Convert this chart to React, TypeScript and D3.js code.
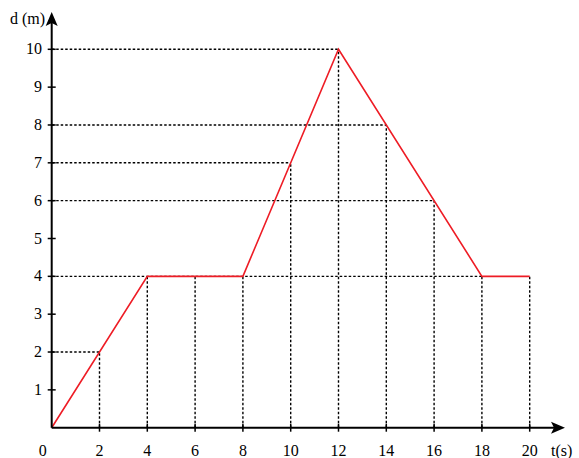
import React from "react";
import * as d3 from "d3";

const times = [0, 4, 8, 12, 18, 20];
const distances = [0, 4, 4, 10, 4, 4];
const xTicks = [0, 2, 4, 6, 8, 10, 12, 14, 16, 18, 20];
const yTicks = [1, 2, 3, 4, 5, 6, 7, 8, 9, 10];
// guide points: [t, d]
const hGuides: [number, number][] = [[2, 2], [18, 4], [16, 6], [10, 7], [14, 8], [12, 10]];
const vGuides: [number, number][] = [[2, 2], [4, 4], [6, 4], [8, 4], [10, 7], [12, 10], [14, 8], [16, 6], [18, 4], [20, 4]];

export default function App() {
  const W = 579, H = 458;
  const x = d3.scaleLinear().domain([0, 20]).range([51.7, 529.7]);
  const y = d3.scaleLinear().domain([0, 10]).range([427.7, 49.3]);
  const line = d3.line<number>().x((_, i) => x(times[i])).y((d) => y(d));
  const ts = { fontFamily: "Liberation Serif, Times New Roman, DejaVu Serif, serif", fontSize: "16px" };
  const x0 = x(0), y0 = y(0);
  return (
    <svg width={W} height={H} style={{ position: "absolute", left: 0, top: 0 }}>
      <rect width={W} height={H} fill="#fff" />
      {hGuides.map(([t, d], i) => (
        <line key={"h" + i} x1={x0} x2={x(t)} y1={y(d)} y2={y(d)} stroke="#000" strokeWidth={1.4} strokeDasharray="2.5,2" />
      ))}
      {vGuides.map(([t, d], i) => (
        <line key={"v" + i} x1={x(t)} x2={x(t)} y1={y0} y2={y(d)} stroke="#000" strokeWidth={1.4} strokeDasharray="2.5,2" />
      ))}
      <path d={line(distances) || ""} fill="none" stroke="#ee1c25" strokeWidth={1.6} />
      <line x1={x0} x2={556} y1={y0} y2={y0} stroke="#000" strokeWidth={2} />
      <line x1={x0} x2={x0} y1={y0} y2={22} stroke="#000" strokeWidth={2} />
      <path d={`M565,${y0} L551,${y0 - 6} L554,${y0} L551,${y0 + 6} Z`} fill="#000" />
      <path d={`M${x0},12 L${x0 - 6},26 L${x0},23 L${x0 + 6},26 Z`} fill="#000" />
      {xTicks.filter((t) => t > 0).map((t) => (
        <line key={"xt" + t} x1={x(t)} x2={x(t)} y1={y0 - 4} y2={y0 + 4} stroke="#000" strokeWidth={1.5} />
      ))}
      {yTicks.map((d) => (
        <line key={"yt" + d} x1={x0 - 4} x2={x0 + 4} y1={y(d)} y2={y(d)} stroke="#000" strokeWidth={1.5} />
      ))}
      {xTicks.map((t) => (
        <text key={"xl" + t} x={t === 0 ? x(t) - 9 : x(t)} y={456} textAnchor="middle" style={ts} fill="#000">{t}</text>
      ))}
      {yTicks.map((d) => (
        <text key={"yl" + d} x={42} y={y(d) + 5} textAnchor="end" style={ts} fill="#000">{d}</text>
      ))}
      <text x={45} y={24} textAnchor="end" style={ts} fill="#000">d (m)</text>
      <text x={551} y={456} style={ts} fill="#000">t(s)</text>
    </svg>
  );
}
